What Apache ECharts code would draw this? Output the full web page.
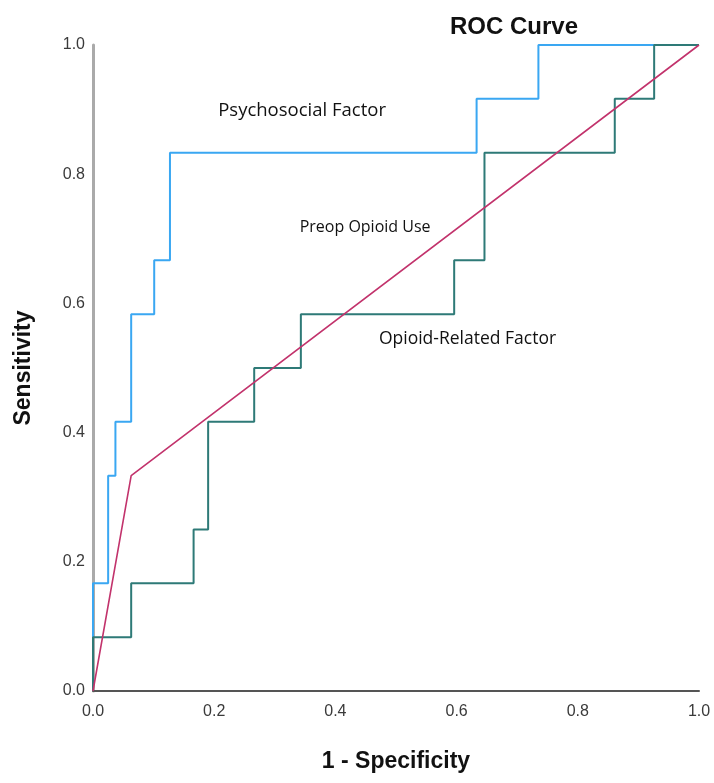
<!DOCTYPE html>
<html>
<head>
<meta charset="utf-8">
<script src="https://cdn.jsdelivr.net/npm/echarts@6/dist/echarts.min.js"></script>
<style>html,body{margin:0;padding:0;background:#fff}#c{width:714px;height:783px}</style>
</head>
<body>
<div id="c"></div>
<script>
// ROC curve vertices (1 - Specificity, Sensitivity)
const psychX = [0, 0, 0.025, 0.025, 0.037, 0.037, 0.063, 0.063, 0.101, 0.101, 0.127, 0.127, 0.633, 0.633, 0.735, 0.735, 1];
const psychY = [0, 0.1667, 0.1667, 0.3333, 0.3333, 0.4167, 0.4167, 0.5833, 0.5833, 0.6667, 0.6667, 0.8333, 0.8333, 0.9167, 0.9167, 1, 1];
const opioidX = [0, 0, 0.063, 0.063, 0.166, 0.166, 0.190, 0.190, 0.266, 0.266, 0.343, 0.343, 0.596, 0.596, 0.646, 0.646, 0.861, 0.861, 0.926, 0.926, 1];
const opioidY = [0, 0.0833, 0.0833, 0.1667, 0.1667, 0.25, 0.25, 0.4167, 0.4167, 0.5, 0.5, 0.5833, 0.5833, 0.6667, 0.6667, 0.8333, 0.8333, 0.9167, 0.9167, 1, 1];
const preopX = [0, 0.063, 1];
const preopY = [0, 0.3333, 1];
const seriesNames = ['Psychosocial Factor', 'Opioid-Related Factor', 'Preop Opioid Use'];
const labelX = [0.345, 0.618, 0.449];
const labelY = [0.899, 0.545, 0.718];
const tickValues = [0, 0.2, 0.4, 0.6, 0.8, 1.0];

const zip = (xs, ys) => xs.map((x, i) => [x, ys[i]]);
const colors = ['#3aa7f2', '#2e7a77', '#c2336c'];
const labelSizes = [18.5, 17.5, 16];

const chart = echarts.init(document.getElementById('c'));
const axisLabelStyle = { color: '#3a3a3a', fontSize: 16, fontFamily: 'Liberation Sans, Arial, sans-serif',
  formatter: v => v.toFixed(1) };
chart.setOption({
  animation: false,
  backgroundColor: '#fff',
  title: {
    text: 'ROC Curve', left: 445, top: 10,
    textStyle: { fontSize: 24, fontWeight: 'bold', color: '#111', fontFamily: 'Liberation Sans, Arial, sans-serif' }
  },
  grid: { left: 93, right: 15, top: 45, bottom: 92 },
  xAxis: {
    type: 'value', min: 0, max: 1, interval: 0.2,
    name: '1 - Specificity', nameLocation: 'middle', nameGap: 59,
    nameTextStyle: { fontSize: 23, fontWeight: 'bold', color: '#111', fontFamily: 'Liberation Sans, Arial, sans-serif' },
    axisLine: { show: true, lineStyle: { color: '#555', width: 2 } },
    axisTick: { show: false }, splitLine: { show: false },
    axisLabel: Object.assign({ margin: 13 }, axisLabelStyle)
  },
  yAxis: {
    type: 'value', min: 0, max: 1, interval: 0.2,
    name: 'Sensitivity', nameLocation: 'middle', nameGap: 58,
    nameTextStyle: { fontSize: 23, fontWeight: 'bold', color: '#111', fontFamily: 'Liberation Sans, Arial, sans-serif' },
    axisLine: { show: true, lineStyle: { color: '#aaaaaa', width: 3 } },
    axisTick: { show: false }, splitLine: { show: false },
    axisLabel: Object.assign({ margin: 8 }, axisLabelStyle)
  },
  series: [
    { name: seriesNames[0], type: 'line', data: zip(psychX, psychY), showSymbol: false, symbol: 'none',
      lineStyle: { color: colors[0], width: 2 }, z: 2 },
    { name: seriesNames[1], type: 'line', data: zip(opioidX, opioidY), showSymbol: false, symbol: 'none',
      lineStyle: { color: colors[1], width: 2 }, z: 3 },
    { name: seriesNames[2], type: 'line', data: zip(preopX, preopY), showSymbol: false, symbol: 'none',
      lineStyle: { color: colors[2], width: 1.6 }, z: 4 },
    { name: 'labels', type: 'scatter', symbolSize: 0, z: 5, silent: true,
      itemStyle: { opacity: 1 },
      data: seriesNames.map((n, i) => ({ name: n, value: [labelX[i], labelY[i]],
        label: { fontSize: labelSizes[i] } })),
      label: { show: true, position: 'inside', formatter: p => p.name, color: '#111',
        fontFamily: 'Open Sans, Noto Sans, sans-serif' } }
  ]
});
</script>
</body>
</html>
